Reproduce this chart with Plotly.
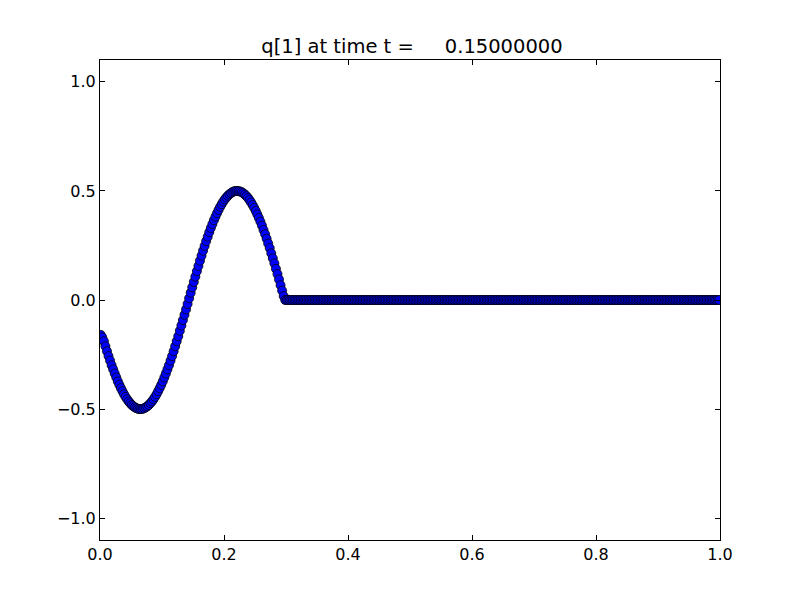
import plotly.graph_objects as go

# Cell centres, dx = 0.0025, 400 cells on [0, 1]
n_cells = 400
x_vals = [0.00125 + 0.0025 * i for i in range(n_cells)]

# q[1] values for the first 120 cells (x < 0.3)
q_wave = [
    # falling to the minimum near x = 0.065
    -0.160, -0.172, -0.189, -0.212, -0.235, -0.257, -0.278, -0.299, -0.318, -0.337,
    -0.355, -0.373, -0.389, -0.404, -0.418, -0.432, -0.444, -0.455, -0.465, -0.473,
    -0.481, -0.487, -0.492, -0.496, -0.499, -0.500,
    # rising to the maximum near x = 0.221
    -0.500, -0.499, -0.496, -0.492, -0.487, -0.481, -0.473, -0.465, -0.455, -0.444,
    -0.432, -0.418, -0.404, -0.389, -0.373, -0.355, -0.337, -0.318, -0.299, -0.278,
    -0.257, -0.235, -0.212, -0.189, -0.166, -0.141, -0.117, -0.092, -0.068, -0.043,
    -0.018, 0.008, 0.033, 0.058, 0.083, 0.107, 0.132, 0.156, 0.180, 0.203,
    0.226, 0.248, 0.270, 0.290, 0.311, 0.330, 0.348, 0.366, 0.382, 0.398,
    0.413, 0.427, 0.439, 0.451, 0.461, 0.470, 0.478, 0.485, 0.490, 0.495,
    0.498, 0.500,
    # falling back to zero near x = 0.298
    0.500, 0.499, 0.497, 0.494, 0.489, 0.483, 0.476, 0.468, 0.458, 0.447,
    0.435, 0.422, 0.408, 0.392, 0.376, 0.359, 0.341, 0.321, 0.302, 0.281,
    0.259, 0.238, 0.214, 0.191, 0.168, 0.143, 0.119, 0.094, 0.068, 0.043,
    0.018, 0.000,
]
# remaining cells are flat at zero
q_flat = [0.0] * (n_cells - len(q_wave))
q_vals = q_wave + q_flat

x_ticks = [0.0, 0.2, 0.4, 0.6, 0.8, 1.0]
y_ticks = [-1.0, -0.5, 0.0, 0.5, 1.0]
title_text = "q[1] at time t =\u00a0\u00a0\u00a0\u00a0\u00a00.15000000"

fig = go.Figure()
fig.add_trace(go.Scatter(
    x=x_vals, y=q_vals, mode="markers",
    marker=dict(symbol="circle", size=9, color="#0000ff",
                line=dict(color="black", width=0.8)),
    showlegend=False, cliponaxis=True,
))

axis_common = dict(
    showgrid=False, zeroline=False, showline=True, linecolor="black",
    linewidth=1, mirror="ticks", ticks="inside", ticklen=5, tickwidth=1,
    tickcolor="black", automargin=False,
    tickfont=dict(family="DejaVu Sans", size=16, color="black"),
)

# page body has an 8px offset, so margins are shifted accordingly
fig.update_layout(
    width=800, height=600,
    margin=dict(l=92, r=88, t=52, b=68),
    paper_bgcolor="white", plot_bgcolor="white",
    title=dict(text=title_text, x=404 / 800, xanchor="center",
               y=1 - 38 / 600, yanchor="middle",
               font=dict(family="DejaVu Sans", size=19.5, color="black")),
    xaxis=dict(range=[0, 1], tickvals=x_ticks,
               ticktext=[f"{v:.1f}" for v in x_ticks], **axis_common),
    yaxis=dict(range=[-1.1, 1.1], tickvals=y_ticks,
               ticktext=[f"{v:.1f}".replace("-", "\u2212") for v in y_ticks],
               **axis_common),
)

fig.write_html("out.html")
